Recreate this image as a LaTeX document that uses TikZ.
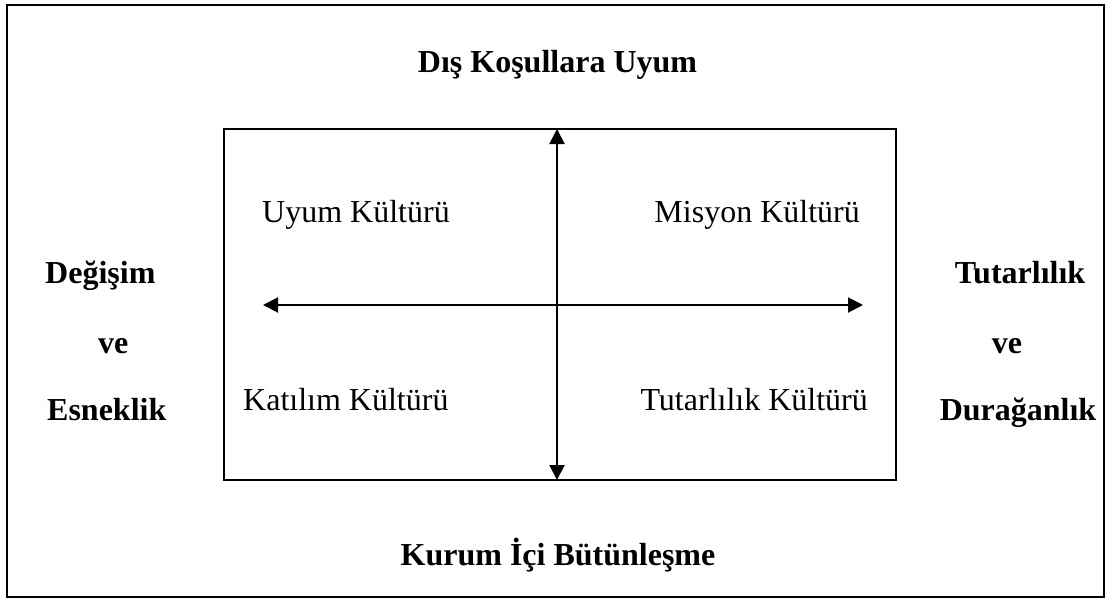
\documentclass[tikz,border=0pt]{standalone}
\usepackage{fontspec}
\setmainfont{Liberation Serif}
\usetikzlibrary{arrows.meta}
\begin{document}
\begin{tikzpicture}[x=1pt,y=-1pt,
  frame/.style={line width=1.8pt},
  axis/.style={line width=2pt,
    {Triangle[length=15pt,width=15pt]}-{Triangle[length=15pt,width=15pt]}},
  lbl/.style={font=\fontsize{32}{37}\selectfont\bfseries, inner sep=0pt},
  cult/.style={font=\fontsize{32}{37}\selectfont, inner sep=0pt}]
\useasboundingbox (0,0) rectangle (1107,599);
% outer frame
\draw[frame] (7,5) rectangle (1104,597);
% quadrant box
\coordinate (boxnw) at (224,129);
\coordinate (boxse) at (896,480);
\draw[frame] (boxnw) rectangle (boxse);
% axes
\coordinate (vtop) at (557,129);
\coordinate (vbot) at (557,480);
\coordinate (hleft) at (263,305);
\coordinate (hright) at (863,305);
\draw[axis] (vbot) -- (vtop);
\draw[axis] (hleft) -- (hright);
% dimension labels
\node[lbl, anchor=base] (ext) at (557.5,73) {Dış Koşullara Uyum};
\node[lbl, anchor=base] (int) at (558,565) {Kurum İçi Bütünleşme};
\node[lbl, anchor=base west] (l1) at (45,283) {Değişim};
\node[lbl, anchor=base west] (l2) at (98,353) {ve};
\node[lbl, anchor=base west] (l3) at (47,420) {Esneklik};
\node[lbl, anchor=base] (r1) at (1020,283) {Tutarlılık};
\node[lbl, anchor=base] (r2) at (1007,353) {ve};
\node[lbl, anchor=base] (r3) at (1018,420) {Durağanlık};
% quadrant labels
\node[cult, anchor=base west] (q1) at (262,222) {Uyum Kültürü};
\node[cult, anchor=base east] (q2) at (860,222) {Misyon Kültürü};
\node[cult, anchor=base west] (q3) at (243,410) {Katılım Kültürü};
\node[cult, anchor=base east] (q4) at (868,410) {Tutarlılık Kültürü};
\end{tikzpicture}
\end{document}
